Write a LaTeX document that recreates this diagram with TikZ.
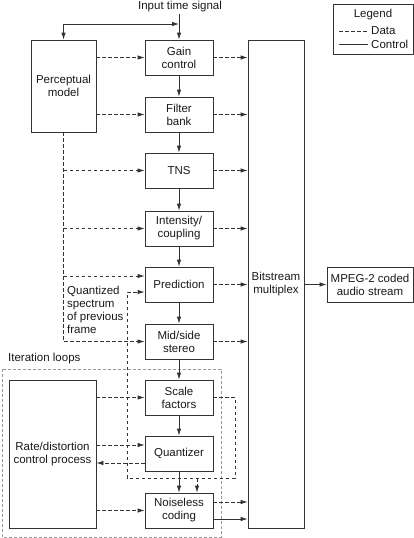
\documentclass[tikz,border=0pt]{standalone}
\usepackage{fontspec}
\setmainfont{Liberation Sans}
\usetikzlibrary{arrows.meta}
\definecolor{linec}{HTML}{333333}
\begin{document}
\begin{tikzpicture}[x=1pt,y=-1pt,
  txt/.style={font=\fontsize{11.5}{13}\selectfont, text=black!90, inner sep=0pt},
  box/.style={txt, draw=linec, line width=0.8pt, minimum width=68pt, minimum height=35pt, align=center},
  ctl/.style={draw=linec, line width=0.8pt, -{Latex[length=7pt,width=4.5pt]}},
  dat/.style={ctl, dash pattern=on 3.5pt off 2.5pt},
  datl/.style={draw=linec, line width=0.8pt, dash pattern=on 3.5pt off 2.5pt}]
\useasboundingbox (0,0) rectangle (414,538);

% iteration loops box
\draw[black!40, line width=0.8pt, dash pattern=on 3pt off 2pt] (2,369) rectangle (221,537);
\node[txt, anchor=west] (iterlbl) at (8,359) {Iteration loops};

% main column
\node[box] (gain)  at (179,57.5)  {Gain\\control};
\node[box] (filt)  at (179,114.5) {Filter\\bank};
\node[box] (tns)   at (179,170.5) {TNS};
\node[box] (inten) at (179,228.5) {Intensity/\\coupling};
\node[box] (pred)  at (179,284.5) {Prediction};
\node[box] (mid)   at (179,341.5) {Mid/side\\stereo};
\node[box] (scale) at (179,397.5) {Scale\\factors};
\node[box] (quant) at (179,453.5) {Quantizer};
\node[box] (noise) at (179,510.5) {Noiseless\\coding};

\node[box, minimum width=65pt, minimum height=92pt] (perc) at (63.5,86) {Perceptual\\model};
\node[box, minimum width=87pt, minimum height=148pt] (rd) at (52.5,454) {Rate/distortion\\control process};
\node[box, minimum width=56pt, minimum height=488pt] (bit) at (276,284) {Bitstream\\multiplex};
\node[box, minimum width=86pt, minimum height=35pt] (mpeg) at (370,284.5) {MPEG-2 coded\\audio stream};

% legend
\node[box, minimum width=80pt, minimum height=50pt] (leg) at (373,29) {};
\node[txt] (legt) at (373,15) {Legend};
\coordinate (ld1) at (339,31); \coordinate (ld2) at (368,31);
\coordinate (lc1) at (339,44); \coordinate (lc2) at (368,44);
\draw[datl] (ld1) -- (ld2);
\draw[draw=linec, line width=0.8pt] (lc1) -- (lc2);
\node[txt, anchor=west] (legd) at (371,31) {Data};
\node[txt, anchor=west] (legc) at (371,44) {Control};

% input
\node[txt] (inp) at (180,7) {Input time signal};
\coordinate (isrc) at (179,14);
\coordinate (ij) at (179,24);
\coordinate (il) at (63.5,24);
\draw[ctl] (isrc) -- (gain.north);
\draw[ctl] (il) -- (ij);
\draw[ctl] (il) -- (perc.north);

% control flow down the column
\draw[ctl] (gain) -- (filt);
\draw[ctl] (filt) -- (tns);
\draw[ctl] (tns) -- (inten);
\draw[ctl] (inten) -- (pred);
\draw[ctl] (pred) -- (mid);
\draw[ctl] (mid) -- (scale);
\draw[ctl] (scale) -- (quant);
\draw[ctl] (quant) -- (noise);

% perceptual model data
\draw[dat] (perc.east |- gain) -- (gain.west);
\draw[dat] (perc.east |- filt) -- (filt.west);
\draw[dat] (perc.south) |- (mid.west);
\draw[dat] (perc.south |- tns) -- (tns.west);
\draw[dat] (perc.south |- inten) -- (inten.west);
\coordinate (pa) at ([yshift=8.5pt]pred.west);
\draw[dat] (perc.south |- pa) -- (pa);

% quantized spectrum loop
\node[txt, anchor=north west, align=left] (qs) at (67,285.5) {Quantized\\spectrum\\of previous\\frame};
\coordinate (pb) at ([yshift=-7.5pt]pred.west);
\coordinate (lr) at (235,478);
\coordinate (ll) at (127,478);
\coordinate (lb) at (197,478);
\draw[datl] (scale.east) -| (lr) -- (ll);
\draw[dat] (ll) |- (pb);
\draw[dat] (lb) -- (lb |- noise.north);

% rate/distortion
\draw[dat] (rd.east |- scale) -- (scale.west);
\coordinate (qa) at ([yshift=8.5pt]quant.west);
\coordinate (qb) at ([yshift=-9.5pt]quant.west);
\draw[dat] (rd.east |- qa) -- (qa);
\draw[dat] (qb) -- (rd.east |- qb);
\draw[dat] (rd.east |- noise) -- (noise.west);

% to bitstream
\draw[dat] (gain.east) -- (gain.east -| bit.west);
\draw[dat] (filt.east) -- (filt.east -| bit.west);
\draw[dat] (tns.east) -- (tns.east -| bit.west);
\draw[dat] (inten.east) -- (inten.east -| bit.west);
\draw[dat] (pred.east) -- (pred.east -| bit.west);
\draw[dat] (mid.east) -- (mid.east -| bit.west);
\coordinate (na) at ([yshift=8.5pt]noise.east);
\coordinate (nb) at ([yshift=-8.5pt]noise.east);
\draw[dat] (na) -- (na -| bit.west);
\draw[ctl] (nb) -- (nb -| bit.west);

\draw[ctl] (bit.east |- mpeg) -- (mpeg.west);
\end{tikzpicture}
\end{document}
